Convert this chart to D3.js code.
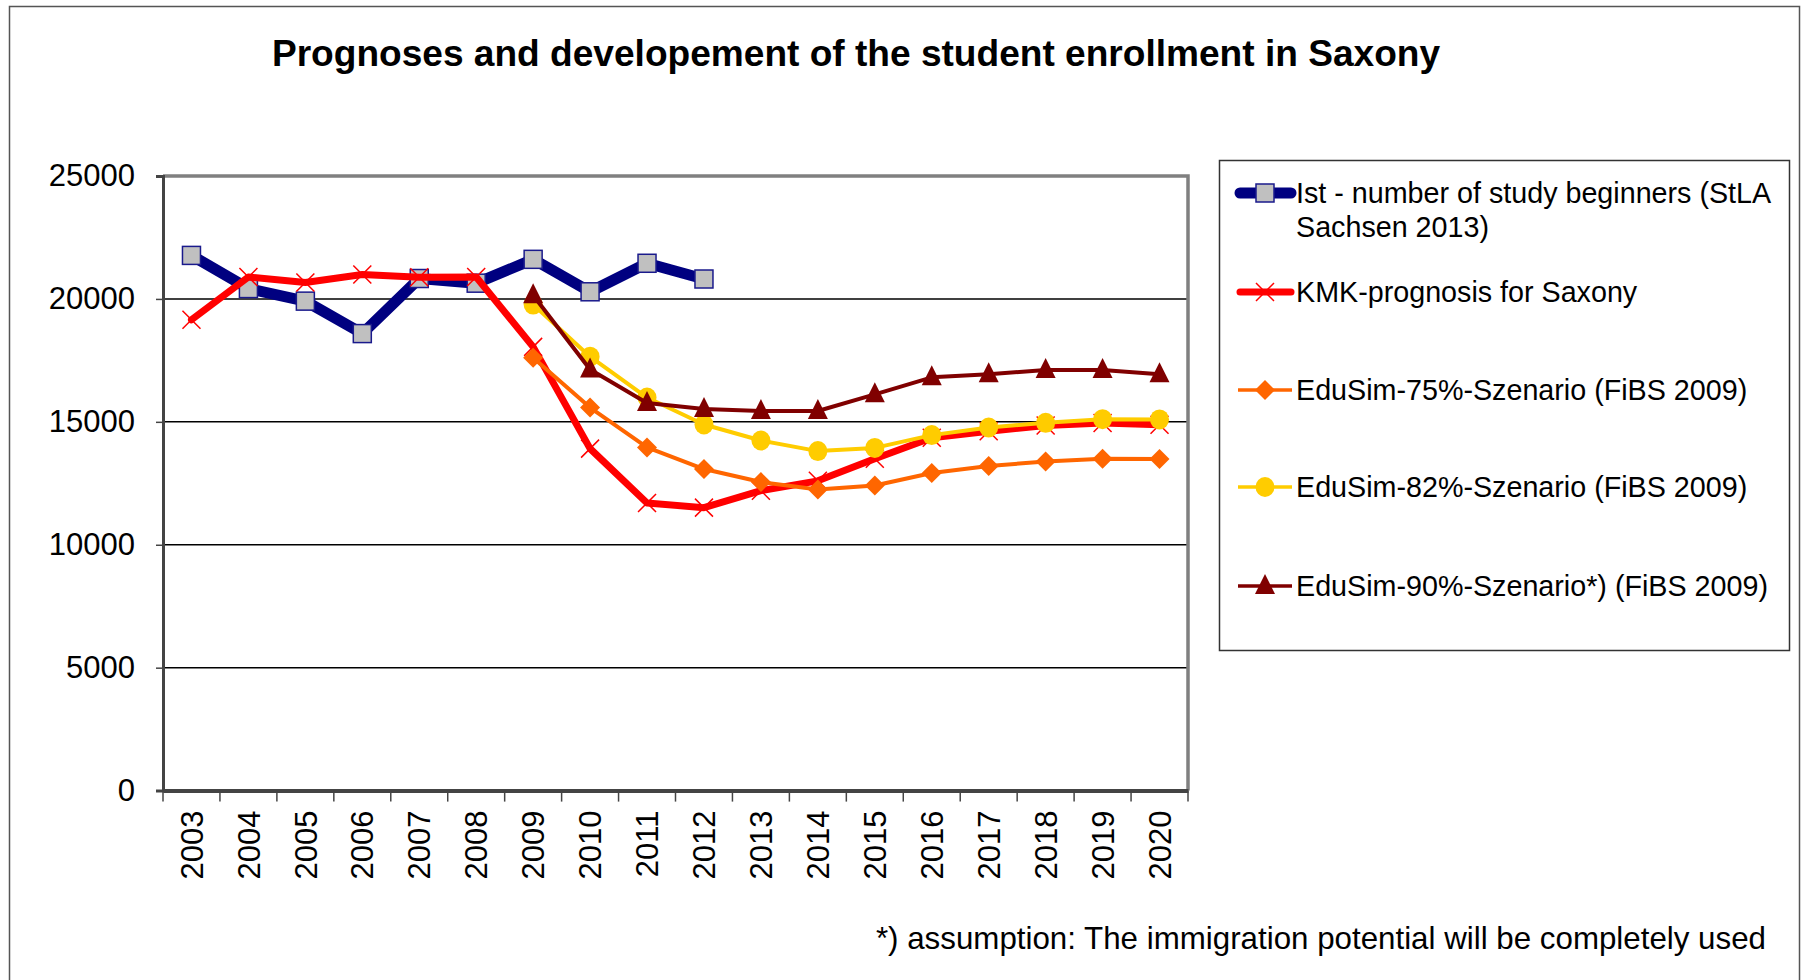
<!DOCTYPE html>
<html>
<head>
<meta charset="utf-8">
<script src="https://cdn.jsdelivr.net/npm/d3@7"></script>
<style>
  body { margin: 0; background: #fff; }
  text { font-family: Arial, 'Liberation Sans', sans-serif; fill: #000; }
</style>
</head>
<body>
<script>
// Data
var years = ['2003','2004','2005','2006','2007','2008','2009','2010','2011','2012',
             '2013','2014','2015','2016','2017','2018','2019','2020'];
var yTicks = [0, 5000, 10000, 15000, 20000, 25000];

var istYears = years.slice(0, 10);
var istValues = [21770, 20420, 19910, 18590, 20830, 20640, 21610, 20290, 21450, 20810];

var kmkValues = [19150, 20890, 20670, 20990, 20880, 20890, 18050, 13910, 11700, 11510,
                 12200, 12600, 13500, 14350, 14620, 14850, 14950, 14880];

var simYears = years.slice(6);
var edu75Values = [17610, 15580, 13960, 13080, 12550, 12250, 12410, 12920, 13200, 13390, 13500, 13490];
var edu82Values = [19770, 17650, 15990, 14890, 14240, 13810, 13940, 14460, 14770, 14960, 15110, 15100];
var edu90Values = [20150, 17130, 15770, 15520, 15440, 15440, 16120, 16810, 16940, 17110, 17110, 16940];

var series = [
	{ name: 'Ist - number of study beginners (StLA', name2: 'Sachsen 2013)', x: istYears, y: istValues,
	  color: '#000080', width: 11, marker: 'square' },
	{ name: 'KMK-prognosis for Saxony', x: years, y: kmkValues,
	  color: '#ff0000', width: 7, marker: 'x' },
	{ name: 'EduSim-75%-Szenario (FiBS 2009)', x: simYears, y: edu75Values,
	  color: '#ff6600', width: 4, marker: 'diamond' },
	{ name: 'EduSim-82%-Szenario (FiBS 2009)', x: simYears, y: edu82Values,
	  color: '#ffcc00', width: 4, marker: 'circle' },
	{ name: 'EduSim-90%-Szenario*) (FiBS 2009)', x: simYears, y: edu90Values,
	  color: '#800000', width: 4, marker: 'triangle' }
];

// Layout
var W = 1802, H = 980;
var plot = { left: 163, right: 1188, top: 176, bottom: 790.6 };

var svg = d3.select('body').append('svg')
	.attr('width', W)
	.attr('height', H);

// outer frame
svg.append('rect')
	.attr('x', 9.5).attr('y', 6.5)
	.attr('width', 1790).attr('height', 1000)
	.attr('fill', 'none')
	.attr('stroke', '#555')
	.attr('stroke-width', 1.5);

// Title
svg.append('text')
	.attr('x', 856)
	.attr('y', 66)
	.attr('text-anchor', 'middle')
	.style('font-size', '37.1px')
	.style('font-weight', 'bold')
	.text('Prognoses and developement of the student enrollment in Saxony');

// Scales
var xScale = d3.scaleBand()
	.domain(years)
	.range([plot.left, plot.right])
	.padding(0);
var yScale = d3.scaleLinear()
	.domain([0, 25000])
	.range([plot.bottom, plot.top]);
var cx = function(d) { return xScale(d) + xScale.bandwidth() / 2; };

// Gridlines
svg.append('g')
	.selectAll('line')
	.data(yTicks.filter(function(d) { return d > 0 && d < 25000; }))
	.enter()
	.append('line')
		.attr('x1', plot.left).attr('x2', plot.right)
		.attr('y1', function(d) { return yScale(d); })
		.attr('y2', function(d) { return yScale(d); })
		.attr('stroke', '#000')
		.attr('stroke-width', 1.5);

// Plot frame top / right (gray)
svg.append('path')
	.attr('d', 'M' + plot.left + ',' + plot.top + 'H' + plot.right + 'V' + plot.bottom)
	.attr('fill', 'none')
	.attr('stroke', '#808080')
	.attr('stroke-width', 3.5);

// Y axis
var yAxis = d3.axisLeft(yScale)
	.tickValues(yTicks)
	.tickSize(7)
	.tickPadding(21)
	.tickFormat(d3.format('d'));
var gy = svg.append('g')
	.attr('transform', 'translate(' + plot.left + ',0)')
	.call(yAxis);
gy.select('.domain').attr('stroke', '#444').attr('stroke-width', 3);
gy.selectAll('.tick line').attr('stroke', '#444').attr('stroke-width', 1.5);
gy.selectAll('.tick text')
	.style('font-size', '31px')
	.style('font-family', "Arial, 'Liberation Sans', sans-serif")
	.attr('fill', '#000');

// X axis (labels at band centres, ticks on band edges)
var xAxis = d3.axisBottom(xScale)
	.tickSize(0)
	.tickSizeOuter(0);
var gx = svg.append('g')
	.attr('transform', 'translate(0,' + plot.bottom + ')')
	.call(xAxis);
gx.select('.domain').attr('stroke', '#444').attr('stroke-width', 4);
gx.selectAll('.tick text')
	.style('font-size', '31px')
	.style('font-family', "Arial, 'Liberation Sans', sans-serif")
	.attr('fill', '#000')
	.attr('transform', 'rotate(-90)')
	.attr('x', -20)
	.attr('y', 0)
	.attr('dy', '0.36em')
	.style('text-anchor', 'end');
gx.selectAll('.edge')
	.data(years.concat(['end']))
	.enter()
	.append('line')
		.attr('class', 'edge')
		.attr('x1', function(d) { return d === 'end' ? plot.right : xScale(d); })
		.attr('x2', function(d) { return d === 'end' ? plot.right : xScale(d); })
		.attr('y1', 0).attr('y2', 11)
		.attr('stroke', '#444')
		.attr('stroke-width', 1.5);

// Markers
function drawMarker(g, type, color, x, y) {
	if (type === 'square') {
		g.append('rect')
			.attr('x', x - 9).attr('y', y - 9)
			.attr('width', 18).attr('height', 18)
			.attr('fill', '#c0c0c0')
			.attr('stroke', '#1a1a8c')
			.attr('stroke-width', 1.5);
	} else if (type === 'x') {
		g.append('path')
			.attr('d', 'M' + (x - 9) + ',' + (y - 9) + 'L' + (x + 9) + ',' + (y + 9) +
			           'M' + (x - 9) + ',' + (y + 9) + 'L' + (x + 9) + ',' + (y - 9))
			.attr('stroke', color)
			.attr('stroke-width', 1.5);
	} else if (type === 'diamond') {
		g.append('path')
			.attr('d', 'M' + x + ',' + (y - 10) + 'L' + (x + 10) + ',' + y + 'L' + x + ',' + (y + 10) +
			           'L' + (x - 10) + ',' + y + 'Z')
			.attr('fill', color);
	} else if (type === 'circle') {
		g.append('ellipse')
			.attr('cx', x).attr('cy', y)
			.attr('rx', 9.5).attr('ry', 10)
			.attr('fill', color);
	} else if (type === 'triangle') {
		g.append('path')
			.attr('d', 'M' + x + ',' + (y - 12) + 'L' + (x + 10) + ',' + (y + 8) + 'L' + (x - 10) + ',' + (y + 8) + 'Z')
			.attr('fill', color);
	}
}

// Series
var line = d3.line();
series.forEach(function(s) {
	var pts = s.x.map(function(yr, i) { return [cx(yr), yScale(s.y[i])]; });
	var g = svg.append('g');
	g.append('path')
		.attr('d', line(pts))
		.attr('fill', 'none')
		.attr('stroke', s.color)
		.attr('stroke-width', s.width)
		.attr('stroke-linejoin', 'round')
		.attr('stroke-linecap', 'round');
	pts.forEach(function(p) { drawMarker(g, s.marker, s.color, p[0], p[1]); });
});

// Legend
var legend = svg.append('g');
legend.append('rect')
	.attr('x', 1219.5).attr('y', 160.5)
	.attr('width', 570).attr('height', 490)
	.attr('fill', 'none')
	.attr('stroke', '#333')
	.attr('stroke-width', 1.5);
var legendY = [193, 292, 390, 487, 586];
series.forEach(function(s, i) {
	var y = legendY[i];
	var g = legend.append('g');
	g.append('line')
		.attr('x1', i < 2 ? 1240 : 1238).attr('x2', i < 2 ? 1291 : 1292)
		.attr('y1', y).attr('y2', y)
		.attr('stroke', s.color)
		.attr('stroke-width', i < 2 ? s.width : 3.5)
		.attr('stroke-linecap', i < 2 ? 'round' : 'butt');
	drawMarker(g, s.marker, s.color, 1265, y);
	g.append('text')
		.attr('x', 1296)
		.attr('y', y)
		.attr('dy', '0.35em')
		.style('font-size', '28.7px')
		.text(s.name);
	if (s.name2) {
		g.append('text')
			.attr('x', 1296)
			.attr('y', y + 34)
			.attr('dy', '0.35em')
			.style('font-size', '28.7px')
			.text(s.name2);
	}
});

// Footnote
svg.append('text')
	.attr('x', 1766)
	.attr('y', 949)
	.attr('text-anchor', 'end')
	.style('font-size', '31.3px')
	.text('*) assumption: The immigration potential will be completely used');
</script>
</body>
</html>
